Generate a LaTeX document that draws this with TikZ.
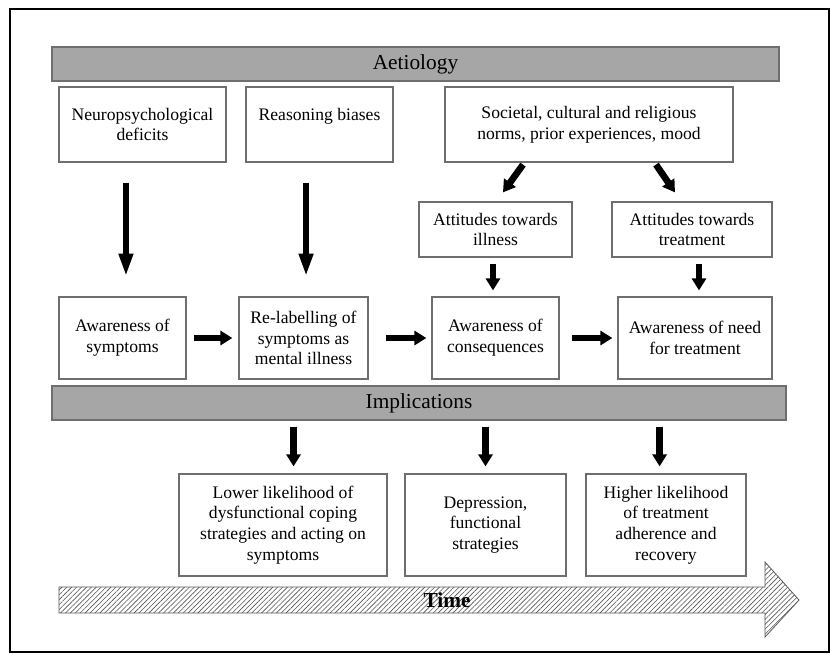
\documentclass[tikz,border=0pt]{standalone}
\usepackage{fontspec}
\setmainfont{Liberation Serif}
\usetikzlibrary{arrows.meta,patterns.meta}
\definecolor{barfill}{HTML}{A6A6A6}
\definecolor{bord}{HTML}{6E6E6E}
\begin{document}
\begin{tikzpicture}[x=0.75pt,y=-0.75pt,
  box/.style={draw=bord, line width=0.9pt, fill=white, align=center, inner sep=0pt,
    font=\fontsize{13.2}{15.5}\selectfont},
  bar/.style={draw=bord, line width=1pt, fill=barfill, inner sep=0pt,
    font=\fontsize{16}{19}\selectfont, minimum height=25.5pt},
  blk/.style={line width=5pt, -{Triangle[width=10.5pt,length=9pt]}},
  blklong/.style={line width=5pt, -{Triangle[width=10pt,length=17pt]}},
  timearrow/.style={draw=gray!70!black, line width=0.6pt,
    pattern={Lines[angle=45,distance=2.6pt,line width=0.45pt]},
    pattern color=gray!65!black},
  timelabel/.style={font=\bfseries\fontsize{16}{19}\selectfont, inner sep=0pt}
]
\useasboundingbox (0,0) rectangle (831,654);
\fill[white] (0,0) rectangle (831,654);
\draw[line width=1.5pt] (10,9) rectangle (829,652);

% bars
\node[bar, minimum width=545.25pt] (aet) at (415.5,64) {Aetiology};
\node[bar, minimum width=550.5pt] (impl) at (419,403) {Implications};

% top row
\node[box, minimum width=125.25pt, minimum height=56.25pt] (neuro) at (142.5,124.5) {Neuropsychological\\deficits};
\node[box, minimum width=110.25pt, minimum height=56.25pt] (reason) at (319.5,124.5) {Reasoning biases\\\mbox{}};
\node[box, minimum width=216pt, minimum height=56.25pt] (soc) at (589,124.5) {Societal, cultural and religious\\norms, prior experiences, mood};

% attitudes
\node[box, minimum width=114.75pt, minimum height=41.25pt] (ill) at (495.5,229.5) {Attitudes towards\\illness};
\node[box, minimum width=120pt, minimum height=41.25pt] (treat) at (692,229.5) {Attitudes towards\\treatment};

% middle row
\node[box, minimum width=95.25pt, minimum height=61.5pt] (symp) at (122.5,338) {Awareness of\\symptoms};
\node[box, minimum width=96.75pt, minimum height=61.5pt] (relab) at (303.5,338) {Re-labelling of\\symptoms as\\mental illness};
\node[box, minimum width=95.25pt, minimum height=61.5pt] (cons) at (495.5,338) {Awareness of\\consequences};
\node[box, minimum width=115.5pt, minimum height=61.5pt] (need) at (695,338) {Awareness of need\\for treatment};

% bottom row
\node[box, minimum width=156pt, minimum height=76.5pt] (lower) at (283,525) {Lower likelihood of\\dysfunctional coping\\strategies and acting on\\symptoms};
\node[box, minimum width=120.75pt, minimum height=76.5pt] (dep) at (485.5,525) {Depression,\\functional\\strategies};
\node[box, minimum width=120pt, minimum height=76.5pt] (high) at (666,525) {Higher likelihood\\of treatment\\adherence and\\recovery};

% arrows
\draw[blklong, shorten <=15pt, shorten >=15pt] ([xshift=-12.4pt]neuro.south) -- ([xshift=-12.4pt]neuro.south |- symp.north);
\draw[blklong, shorten <=15pt, shorten >=15pt] ([xshift=-10.1pt]reason.south) -- ([xshift=-10.1pt]reason.south |- relab.north);
\draw[blk] ([xshift=-49.5pt,yshift=-1.5pt]soc.south) -- ([xshift=5.6pt,yshift=6.75pt]ill.north);
\draw[blk] ([xshift=50.25pt,yshift=-1.5pt]soc.south) -- ([xshift=-12.75pt,yshift=6.75pt]treat.north);
\draw[blk, shorten <=4.5pt, shorten >=4.5pt] ([xshift=-1.9pt]ill.south) -- ([xshift=-1.9pt]ill.south |- cons.north);
\draw[blk, shorten <=4.5pt, shorten >=4.5pt] ([xshift=5.25pt]treat.south) -- ([xshift=5.25pt]treat.south |- need.north);
\draw[blk, shorten <=5.25pt, shorten >=4.5pt] (symp.east) -- (relab.west);
\draw[blk, shorten <=12.75pt, shorten >=3.75pt] (relab.east) -- (cons.west);
\draw[blk, shorten <=9pt, shorten >=3.75pt] (cons.east) -- (need.west);
\draw[blk, shorten <=4.5pt, shorten >=5.25pt] ([xshift=7.9pt]lower.north |- impl.south) -- ([xshift=7.9pt]lower.north);
\draw[blk, shorten <=4.5pt, shorten >=5.25pt] (dep.north |- impl.south) -- (dep.north);
\draw[blk, shorten <=4.5pt, shorten >=5.25pt] ([xshift=-4.8pt]high.north |- impl.south) -- ([xshift=-4.8pt]high.north);

% time arrow
\draw[timearrow] (59,587) -- (765,587) -- (765,562) -- (799,600) -- (765,637) -- (765,613) -- (59,613) -- cycle;
\node[timelabel] (time) at (447,600) {Time};
\end{tikzpicture}
\end{document}
